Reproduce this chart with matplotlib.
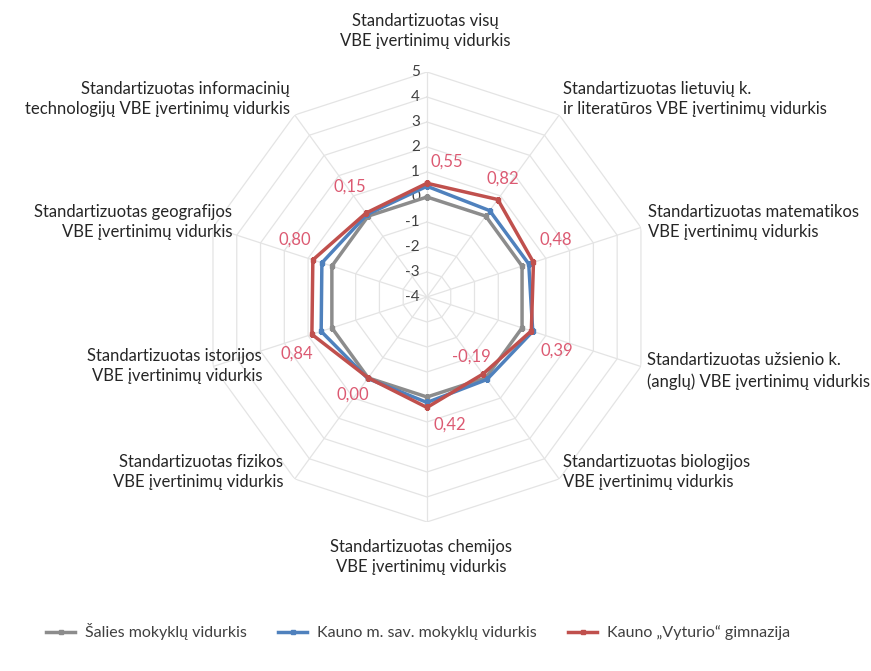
import numpy as np
import matplotlib
matplotlib.use('Agg')
import matplotlib.pyplot as plt

plt.rcParams['font.family'] = ['Lato', 'DejaVu Sans']

# axes of the radar, clockwise from the top
categories = [
    'Standartizuotas visų\nVBE įvertinimų vidurkis',
    'Standartizuotas lietuvių k.\nir literatūros VBE įvertinimų vidurkis',
    'Standartizuotas matematikos\nVBE įvertinimų vidurkis',
    'Standartizuotas užsienio k.\n(anglų) VBE įvertinimų vidurkis',
    'Standartizuotas biologijos\nVBE įvertinimų vidurkis',
    'Standartizuotas chemijos\nVBE įvertinimų vidurkis',
    'Standartizuotas fizikos\nVBE įvertinimų vidurkis',
    'Standartizuotas istorijos\nVBE įvertinimų vidurkis',
    'Standartizuotas geografijos\nVBE įvertinimų vidurkis',
    'Standartizuotas informacinių\ntechnologijų VBE įvertinimų vidurkis',
]
salies = [0.00, 0.00, 0.00, 0.00, 0.00, 0.00, 0.00, 0.00, 0.00, 0.00]
kauno = [0.43, 0.27, 0.28, 0.45, 0.08, 0.22, 0.03, 0.45, 0.42, 0.08]
vyturio = [0.55, 0.82, 0.48, 0.39, -0.19, 0.42, 0.00, 0.84, 0.80, 0.15]
series_names = ['Šalies mokyklų vidurkis', 'Kauno m. sav. mokyklų vidurkis',
                'Kauno „Vyturio“ gimnazija']
ticks = [-4, -3, -2, -1, 0, 1, 2, 3, 4, 5]

colors = ['#8c8c8c', '#4f81bd', '#c0504d']
label_color = '#dc5a72'
grid_color = '#e4e4e4'

n = len(categories)
theta = np.linspace(0, 2 * np.pi, n, endpoint=False)
theta_c = np.append(theta, theta[0])

fig = plt.figure(figsize=(8.71, 6.71), dpi=100)
ax = fig.add_axes([0.2319, 0.2221, 0.5166, 0.6706], projection='polar')
ax.set_theta_zero_location('N')
ax.set_theta_direction(-1)
ax.set_ylim(-4, 5)
ax.grid(False)
ax.spines['polar'].set_visible(False)
ax.set_xticks([])
ax.set_yticks([])
ax.patch.set_alpha(0)

# polygon grid
for t in ticks[1:]:
    ax.plot(theta_c, [t] * (n + 1), color=grid_color, lw=0.9, zorder=1)
for a in theta:
    ax.plot([a, a], [-4, 5], color=grid_color, lw=0.9, zorder=1)

# radial tick labels along the top spoke
for t in ticks:
    ax.annotate(str(t), (0, t), xytext=(-7, 0), textcoords='offset pixels',
                ha='right', va='center', fontsize=11, color='#404040', zorder=2)

# series
for vals, name, c in zip([salies, kauno, vyturio], series_names, colors):
    v = np.append(vals, vals[0])
    ax.plot(theta_c, v, color=c, lw=2.5, marker='s', markersize=2.5,
            label=name, zorder=3)

# value labels for the gymnasium
label_offsets = [(20, 22), (5, 21), (22, 23), (25, -20), (-12, 17),
                 (23, -17), (-15, -17), (-15, -19), (-18, 20), (-16, 26)]
for a, v, off in zip(theta, vyturio, label_offsets):
    ax.annotate(f'{v:.2f}'.replace('.', ','), (a, v), xytext=off,
                textcoords='offset pixels', ha='center', va='center',
                fontsize=12, color=label_color, zorder=4)

# category labels (pixel anchors as in the original layout)
W, H = 871, 671
cat_pos = [(425, 31, 'center'), (563, 99, 'left'), (648, 222, 'left'),
           (647, 371, 'left'), (563, 472, 'left'), (421, 557, 'center'),
           (283, 472, 'right'), (262, 366, 'right'), (232, 222, 'right'),
           (290, 99, 'right')]
for lab, (x, y, ha) in zip(categories, cat_pos):
    fig.text(x / W, 1 - y / H, lab, ha=ha, va='center', multialignment=ha,
             fontsize=12, color='#262626', linespacing=1.35)

fig.legend(loc='center', bbox_to_anchor=(418 / W, 1 - 632 / H), ncol=3,
           frameon=False, fontsize=11.5, handlelength=1.8, handletextpad=0.6,
           columnspacing=2.0, labelcolor='#404040')

fig.savefig('out.png', dpi=100, facecolor='white')
